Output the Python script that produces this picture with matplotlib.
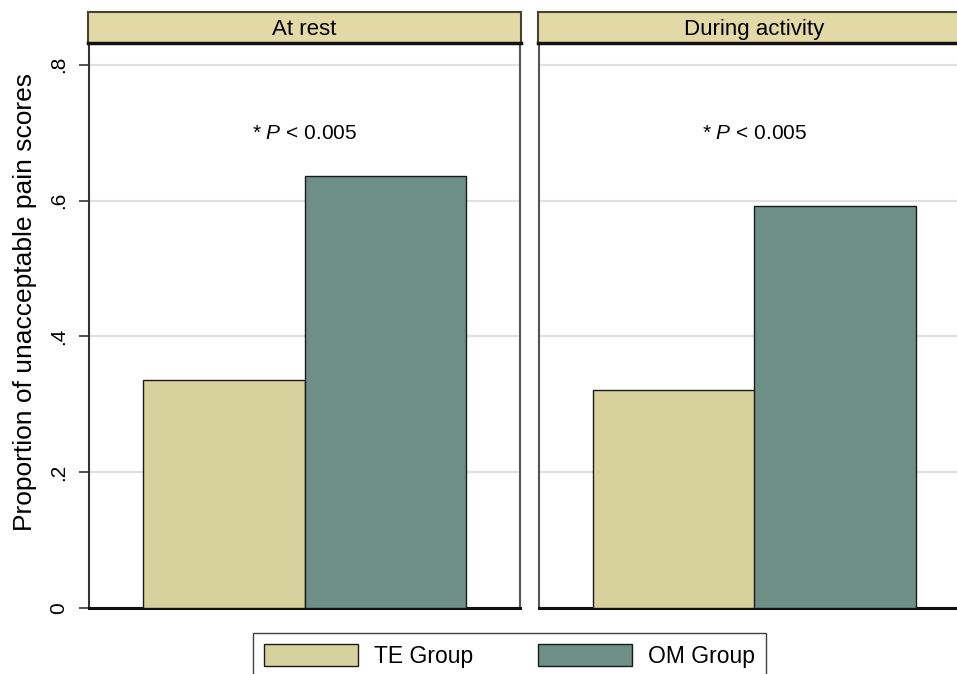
import matplotlib
matplotlib.use("Agg")
import matplotlib.pyplot as plt
from matplotlib.patches import Patch
import numpy as np

PANELS = ["At rest", "During activity"]
GROUPS = ["TE Group", "OM Group"]
TE_VALUES = [0.336, 0.321]
OM_VALUES = [0.636, 0.592]
Y_TICKS = [0, 0.2, 0.4, 0.6, 0.8]
Y_TICK_LABELS = ["0", ".2", ".4", ".6", ".8"]
ANNOTATION = "* $\\mathit{P}$ < 0.005"
Y_LABEL = "Proportion of unacceptable pain scores"

TE_COLOR = "#D7D19D"
OM_COLOR = "#6E8F85"
HEADER_COLOR = "#E3D9A6"

plt.rcParams.update(
    {
        "font.family": ["Liberation Sans", "DejaVu Sans"],
        "mathtext.fontset": "custom",
        "mathtext.rm": "Liberation Sans",
        "mathtext.it": "Liberation Sans:italic",
        "figure.dpi": 100,
    }
)

W, H = 957, 674
fig = plt.figure(figsize=(W / 100, H / 100), dpi=100)
fig.patch.set_facecolor("white")


def fx(px):
    return px / W


def fy(px):
    return 1 - px / H


panel_lefts = [89, 539]
panel_w = 431
top_px, bottom_px = 43, 608
header_top = 12

x = np.arange(len(GROUPS))
width = 1.0

for i, (panel, left) in enumerate(zip(PANELS, panel_lefts)):
    ax = fig.add_axes([fx(left), fy(bottom_px), fx(panel_w), (bottom_px - top_px) / H])
    ax.set_axisbelow(True)
    ax.bar(x[0], TE_VALUES[i], width, color=TE_COLOR, edgecolor="#1a1a1a", linewidth=1.0, zorder=3)
    ax.bar(x[1], OM_VALUES[i], width, color=OM_COLOR, edgecolor="#1a1a1a", linewidth=1.0, zorder=3)
    ax.set_xlim(-0.835, 1.835)
    ax.set_ylim(0, 0.832)
    ax.set_yticks(Y_TICKS)
    ax.grid(axis="y", color="#E0E0E0", linewidth=1.5, zorder=0)
    ax.set_xticks([])
    ax.spines["top"].set_visible(False)
    ax.spines["bottom"].set_linewidth(2.2)
    ax.spines["bottom"].set_color("#111111")
    ax.spines["left"].set_color("#333333" if i == 0 else "#555555")
    ax.spines["left"].set_linewidth(1.5)
    ax.spines["right"].set_color("#555555")
    ax.spines["right"].set_linewidth(1.5)
    if i == 0:
        ax.set_yticklabels(Y_TICK_LABELS, rotation=90, va="center", fontsize=15)
        ax.tick_params(axis="y", length=7, width=1.2, color="#333333", pad=8)
    else:
        ax.tick_params(axis="y", left=False, labelleft=False)
    ax.text(0.5, 0.698, ANNOTATION, transform=ax.get_yaxis_transform(), ha="center",
            va="center", fontsize=15)

    hx = fig.add_axes([fx(left - 1), fy(top_px), fx(panel_w + 2), (top_px - header_top) / H])
    hx.set_facecolor(HEADER_COLOR)
    hx.set_xticks([])
    hx.set_yticks([])
    for side in ["left", "right", "top"]:
        hx.spines[side].set_color("#45452F")
        hx.spines[side].set_linewidth(1.5)
    hx.spines["bottom"].set_color("#111111")
    hx.spines["bottom"].set_linewidth(2.5)
    hx.text(0.5, 0.45, panel, ha="center", va="center", fontsize=16, transform=hx.transAxes)

fig.text(fx(25), fy(302), Y_LABEL, rotation=90, ha="center", va="center", fontsize=19)

handles = [
    Patch(facecolor=TE_COLOR, edgecolor="#1a1a1a", linewidth=1.0),
    Patch(facecolor=OM_COLOR, edgecolor="#1a1a1a", linewidth=1.0),
]
leg = fig.legend(
    handles,
    GROUPS,
    loc="upper center",
    bbox_to_anchor=(fx(509.5), fy(633)),
    ncol=2,
    fontsize=16.5,
    frameon=True,
    fancybox=False,
    handlelength=4.1,
    handleheight=1.1,
    handletextpad=0.7,
    columnspacing=2.8,
    borderpad=0.5,
    borderaxespad=0,
)
leg.get_frame().set_edgecolor("#111111")
leg.get_frame().set_linewidth(1.0)

fig.savefig("out.png", dpi=100)
